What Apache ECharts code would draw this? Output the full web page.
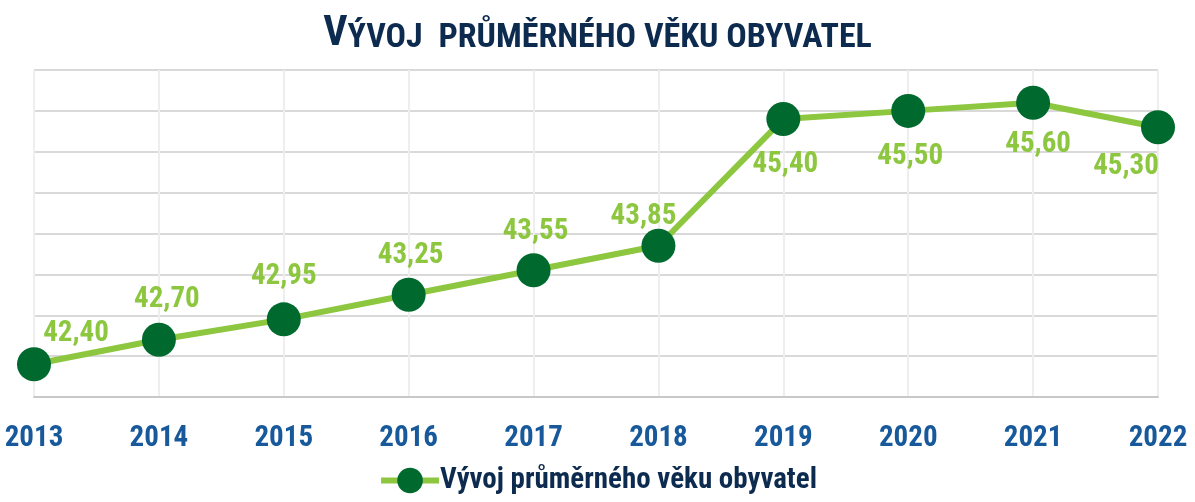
<!DOCTYPE html>
<html>
<head>
<meta charset="utf-8">
<script src="https://cdn.jsdelivr.net/npm/echarts@6/dist/echarts.min.js"></script>
<style>
  html, body { margin: 0; padding: 0; background: #fff; }
  #main { width: 1195px; height: 502px; }
</style>
</head>
<body>
<div id="main"></div>
<script>
// data
var years = ['2013', '2014', '2015', '2016', '2017', '2018', '2019', '2020', '2021', '2022'];
var vekValues = [42.40, 42.70, 42.95, 43.25, 43.55, 43.85, 45.40, 45.50, 45.60, 45.30];
var seriesName = 'Vývoj průměrného věku obyvatel';
// posun popisku od bodu (px)
var labelOffsets = [[42, -31], [8, -40], [0, -43], [2, -39], [2, -39], [-15, -29], [2, 46], [2, 46], [5, 42], [-32, 40]];

var narrow = "'Roboto Condensed', 'Open Sans Condensed', sans-serif";
var navy = '#0d2a4f';
var lightGreen = '#8dc63f';
var darkGreen = '#006a2e';

var chart = echarts.init(document.getElementById('main'));

var points = vekValues.map(function (v, i) {
    return {
        value: v,
        label: { offset: labelOffsets[i] }
    };
});

chart.setOption({
    backgroundColor: '#ffffff',
    title: {
        text: '{big|V}{small|ÝVOJ  PRŮMĚRNÉHO VĚKU OBYVATEL}',
        left: 'center',
        top: 8,
        textStyle: {
            rich: {
                big: { fontFamily: narrow, fontWeight: 'bold', fontSize: 42, color: navy },
                small: { fontFamily: narrow, fontWeight: 'bold', fontSize: 34, color: navy, verticalAlign: 'bottom' }
            }
        }
    },
    grid: { left: 34, right: 37, top: 70, bottom: 105 },
    legend: {
        bottom: 2,
        left: 'center',
        itemWidth: 58,
        itemHeight: 32,
        itemGap: 4,
        lineStyle: { width: 6, color: lightGreen },
        textStyle: { fontFamily: narrow, fontWeight: 'bold', fontSize: 29, color: navy, padding: [0, 0, 0, -4] },
        data: [seriesName]
    },
    xAxis: {
        type: 'category',
        data: years,
        boundaryGap: false,
        axisLine: { lineStyle: { color: '#c8c8c8', width: 2 } },
        axisTick: { show: false },
        axisLabel: { margin: 27, fontFamily: narrow, fontWeight: 'bold', fontSize: 29, color: '#17599a' },
        splitLine: { show: true, lineStyle: { color: '#eeeeee', width: 2 } }
    },
    yAxis: {
        type: 'value',
        min: 42,
        max: 46,
        interval: 0.5,
        axisLabel: { show: false },
        axisLine: { show: false },
        axisTick: { show: false },
        splitLine: { lineStyle: { color: '#d9d9d9', width: 2 } }
    },
    series: [{
        name: seriesName,
        type: 'line',
        data: points,
        symbol: 'circle',
        symbolSize: 34,
        itemStyle: { color: darkGreen },
        lineStyle: { color: lightGreen, width: 6 },
        label: {
            show: true,
            position: 'inside',
            align: 'center',
            verticalAlign: 'middle',
            fontFamily: narrow,
            fontWeight: 'bold',
            fontSize: 29,
            color: lightGreen,
            formatter: function (p) { return p.value.toFixed(2).replace('.', ','); }
        },
        z: 3
    }]
});
</script>
</body>
</html>
